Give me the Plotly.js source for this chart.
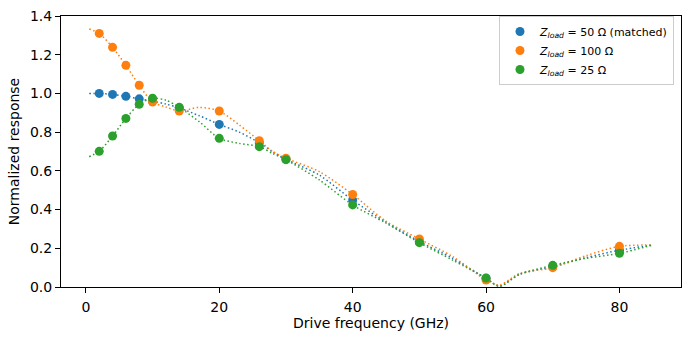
<!DOCTYPE html>
<html><head><meta charset="utf-8">
<script src="https://cdn.plot.ly/plotly-3.0.1.min.js"></script>
<style>html,body{margin:0;padding:0;background:#fff}#chart{width:690px;height:340px}</style>
</head><body><div id="chart"></div>
<script>
// Measured points
const freq = [2, 4, 6, 8, 10, 14, 20, 26, 30, 40, 50, 60, 70, 80];
const resp50  = [1.000, 0.995, 0.985, 0.972, 0.960, 0.925, 0.840, 0.745, 0.660, 0.449, 0.235, 0.045, 0.105, 0.190];
const resp100 = [1.310, 1.238, 1.145, 1.042, 0.956, 0.909, 0.909, 0.756, 0.665, 0.478, 0.248, 0.036, 0.100, 0.210];
const resp25  = [0.701, 0.780, 0.871, 0.944, 0.975, 0.928, 0.768, 0.725, 0.658, 0.424, 0.229, 0.046, 0.112, 0.174];
// Fitted curves
const fitX   = [0.5, 2, 4, 6, 8, 10, 12, 14, 17, 20, 23, 26, 28, 30, 35, 40, 45, 50, 55, 60, 62, 65, 70, 75, 80, 85];
const fit50  = [1.000, 1.000, 0.995, 0.985, 0.972, 0.960, 0.945, 0.925, 0.885, 0.840, 0.800, 0.745, 0.700, 0.660, 0.578, 0.449, 0.335, 0.235, 0.148, 0.045, 0.005, 0.065, 0.105, 0.152, 0.190, 0.217];
const fit100 = [1.333, 1.310, 1.238, 1.145, 1.042, 0.956, 0.930, 0.909, 0.928, 0.909, 0.837, 0.756, 0.700, 0.665, 0.596, 0.478, 0.340, 0.248, 0.157, 0.036, 0.010, 0.070, 0.100, 0.162, 0.210, 0.217];
const fit25  = [0.673, 0.701, 0.780, 0.871, 0.944, 0.975, 0.965, 0.928, 0.854, 0.768, 0.742, 0.725, 0.690, 0.658, 0.553, 0.424, 0.330, 0.229, 0.139, 0.046, 0.003, 0.065, 0.112, 0.148, 0.174, 0.217];
const names = ['<i>Z</i><sub><i>load</i></sub> = 50 Ω (matched)', '<i>Z</i><sub><i>load</i></sub> = 100 Ω', '<i>Z</i><sub><i>load</i></sub> = 25 Ω'];
const colors = ['#1f77b4', '#ff7f0e', '#2ca02c'];

const pts = [resp50, resp100, resp25];
const fits = [fit50, fit100, fit25];
const traces = [];
for (let i = 0; i < 3; i++) {
  traces.push({x: fitX, y: fits[i], mode: 'lines', showlegend: false, hoverinfo: 'skip',
    line: {color: colors[i], width: 1.5, dash: '1.5px,2.5px', shape: 'spline', smoothing: 0.8}});
  traces.push({x: freq, y: pts[i], mode: 'markers', name: names[i],
    marker: {color: colors[i], size: 9}});
}
const font = {family: 'DejaVu Sans, sans-serif', size: 14, color: '#000'};
const layout = {
  width: 690, height: 340,
  margin: {l: 61, r: 9, t: 16, b: 53},
  paper_bgcolor: '#fff', plot_bgcolor: '#fff',
  font: font,
  showlegend: true,
  legend: {x: 0.9887, y: 1.0, xanchor: 'right', yanchor: 'top', bgcolor: 'rgba(255,255,255,0.8)',
    bordercolor: '#cccccc', borderwidth: 1, font: {family: 'DejaVu Sans, sans-serif', size: 11, color: '#000'},
    tracegroupgap: 0, itemwidth: 30},
  xaxis: {range: [-3.73, 89.23], dtick: 20, tick0: 0, showgrid: false, zeroline: false,
    showline: true, linecolor: '#000', linewidth: 1, mirror: true,
    ticks: 'outside', ticklen: 5, tickcolor: '#000', tickfont: font, ticklabelstandoff: 2,
    title: {text: 'Drive frequency (GHz)', font: font, standoff: 4}},
  yaxis: {range: [0, 1.4], dtick: 0.2, tick0: 0, tickformat: '.1f', showgrid: false, zeroline: false,
    showline: true, linecolor: '#000', linewidth: 1, mirror: true,
    ticks: 'outside', ticklen: 5, tickcolor: '#000', tickfont: font,
    title: {text: 'Normalized response', font: font, standoff: 7}}
};
Plotly.newPlot('chart', traces, layout, {displayModeBar: false, staticPlot: true});
</script></body></html>
